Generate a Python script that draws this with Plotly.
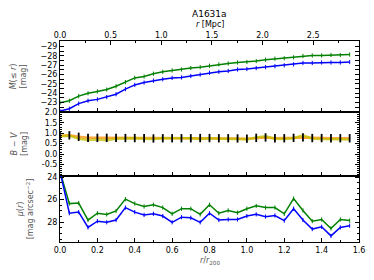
import plotly.graph_objects as go

# r / r200 sampling
r_r200 = [round(0.05 * i, 2) for i in range(32)]
r200_mpc = 1.845

# Top panel: cumulative magnitude M(<= r)
M_green = [-23.0, -23.2, -23.7, -24.0, -24.2, -24.4, -24.75, -25.2, -25.65, -25.8,
           -26.1, -26.3, -26.45, -26.55, -26.7, -26.8, -26.95, -27.1, -27.2, -27.3,
           -27.35, -27.45, -27.6, -27.7, -27.75, -27.85, -28.0, -28.05, -28.05, -28.1,
           -28.1, -28.15]
M_blue = [-22.1, -22.35, -22.9, -23.2, -23.35, -23.6, -23.9, -24.45, -24.9, -25.15,
          -25.35, -25.5, -25.65, -25.7, -25.85, -26.0, -26.2, -26.3, -26.4, -26.55,
          -26.6, -26.7, -26.8, -26.9, -27.0, -27.1, -27.25, -27.25, -27.3, -27.3,
          -27.3, -27.35]

# Middle panel: B - V colour
BV_orange = [0.88, 0.90, 0.83, 0.78, 0.78, 0.78, 0.78, 0.77, 0.77, 0.76, 0.75, 0.76,
             0.76, 0.76, 0.76, 0.77, 0.77, 0.76, 0.76, 0.75, 0.74, 0.78, 0.80, 0.76,
             0.76, 0.78, 0.80, 0.77, 0.77, 0.76, 0.76, 0.76]
BV_yellow = [0.87, 0.88, 0.74, 0.68, 0.70, 0.66, 0.74, 0.76, 0.76, 0.74, 0.73, 0.76,
             0.76, 0.74, 0.76, 0.72, 0.76, 0.74, 0.74, 0.72, 0.70, 0.80, 0.86, 0.74,
             0.73, 0.76, 0.90, 0.74, 0.72, 0.72, 0.70, 0.70]
BV_err = [0.2] * 32

# Bottom panel: surface brightness mu(r)
mu_green = [23.5, 26.35, 26.3, 27.8, 27.2, 27.3, 27.0, 25.95, 26.35, 26.6, 26.45, 26.7,
            27.25, 26.8, 26.8, 27.3, 26.45, 27.2, 26.95, 27.15, 26.8, 26.55, 26.7, 26.7,
            27.25, 25.9, 26.95, 27.9, 27.75, 28.55, 27.75, 27.85]
mu_blue = [23.5, 27.2, 27.1, 28.45, 27.9, 28.0, 27.8, 26.7, 27.1, 27.35, 27.25, 27.45,
           28.0, 27.55, 27.6, 28.0, 27.2, 27.8, 27.75, 27.75, 27.45, 27.3, 27.5, 27.4,
           27.85, 26.8, 27.8, 28.6, 28.4, 29.2, 28.45, 28.3]

x_ticks = [0.0, 0.2, 0.4, 0.6, 0.8, 1.0, 1.2, 1.4, 1.6]
mpc_ticks = [0.0, 0.5, 1.0, 1.5, 2.0, 2.5]
M_ticks = [-29, -28, -27, -26, -25, -24, -23]
BV_ticks = [-0.5, 0.0, 0.5, 1.0, 1.5, 2.0]
BV_labels = ["-0.5", "0.0", "0.5", "1.0", "1.5", "2.0"]
mu_ticks = [24, 26, 28]

GREEN = "#008000"
BLUE = "#0000ff"
GRAY = "#555555"
FONT = "DejaVu Sans"


def line_trace(y, color, xa, ya):
    return go.Scatter(
        x=r_r200, y=y, xaxis=xa, yaxis=ya, mode="lines+markers",
        line=dict(color=color, width=1.5),
        marker=dict(symbol="line-ns", size=3, line=dict(color=color, width=1)),
        showlegend=False, hoverinfo="skip",
    )


fig = go.Figure()
fig.add_trace(line_trace(M_green, GREEN, "x", "y"))
fig.add_trace(line_trace(M_blue, BLUE, "x", "y"))

fig.add_trace(go.Scatter(
    x=r_r200, y=BV_orange, xaxis="x2", yaxis="y2", mode="lines",
    line=dict(color="#ff8c00", width=2.5), opacity=0.75,
    showlegend=False, hoverinfo="skip"))
fig.add_trace(go.Scatter(
    x=r_r200, y=BV_yellow, xaxis="x2", yaxis="y2", mode="lines",
    line=dict(color="#bfbf00", width=2.5), opacity=0.75,
    showlegend=False, hoverinfo="skip"))
# error bars (fully opaque black) on the colour profile
fig.add_trace(go.Scatter(
    x=r_r200, y=BV_orange, xaxis="x2", yaxis="y2", mode="markers",
    marker=dict(size=1, opacity=0),
    error_y=dict(type="data", array=BV_err, color="black", thickness=1.8, width=0),
    showlegend=False, hoverinfo="skip"))

fig.add_trace(line_trace(mu_green, GREEN, "x3", "y3"))
fig.add_trace(line_trace(mu_blue, BLUE, "x3", "y3"))

# invisible trace to activate the top Mpc axis
fig.add_trace(go.Scatter(x=[0, 1.6 * r200_mpc], y=[-25, -25], xaxis="x4", yaxis="y",
                         mode="lines", line=dict(width=0), showlegend=False,
                         hoverinfo="skip"))

tickfont = dict(family=FONT, size=8, color="black")
common_x = dict(range=[0, 1.6], showline=True, linecolor="black", linewidth=1,
                mirror=True, ticks="inside", ticklen=4, tickcolor="black",
                tickvals=x_ticks, tickformat=".1f", showgrid=False, zeroline=False,
                minor=dict(dtick=0.1, ticks="inside", ticklen=2, tickcolor="black"),
                tickfont=tickfont, automargin=False, ticklabeloverflow="allow")
common_y = dict(showline=True, linecolor="black", linewidth=1, mirror="allticks",
                ticks="inside", ticklen=4, tickcolor="black", showgrid=False,
                zeroline=False, tickfont=tickfont, automargin=False,
                ticklabeloverflow="allow")
ytitle_font = dict(family=FONT, size=8, color=GRAY)

bv_minor = [round(-1.0 + 0.1 * k, 1) for k in range(31)]
bv_minor = [v for v in bv_minor if v not in BV_ticks]

d_top = [0.6468, 1.0]
d_mid = [0.3284, 0.6468]
d_bot = [0.0, 0.3284]

# the page body has an 8 px margin, so the figure is sized/offset to compensate
fig.update_layout(
    width=366, height=272,
    margin=dict(l=52, r=15, t=33, b=38),
    paper_bgcolor="white", plot_bgcolor="white",
    font=dict(family=FONT, size=8, color="black"),
    xaxis=dict(common_x, anchor="y", showticklabels=False, matches="x3"),
    xaxis2=dict(common_x, anchor="y2", showticklabels=False, matches="x3"),
    xaxis3=dict(common_x, anchor="y3"),
    xaxis4=dict(range=[0, 1.6 * r200_mpc], overlaying="x", side="top", anchor="y",
                tickvals=mpc_ticks, tickformat=".1f", automargin=False,
                ticklabeloverflow="allow",
                ticks="inside", ticklen=4, tickcolor="black", showgrid=False,
                zeroline=False, showline=False, tickfont=tickfont,
                minor=dict(dtick=0.25, ticks="inside", ticklen=2, tickcolor="black")),
    yaxis=dict(common_y, domain=d_top, anchor="x", range=[-22.0, -29.6],
               tickvals=M_ticks,
               minor=dict(dtick=0.5, ticks="inside", ticklen=2, tickcolor="black"),
               title=dict(text="<i>M</i>(≤ <i>r</i>)<br>[mag]", standoff=12,
                          font=ytitle_font)),
    yaxis2=dict(common_y, domain=d_mid, anchor="x2", range=[-1.05, 2.02],
                tickmode="array", tickvals=BV_ticks, ticktext=BV_labels,
                minor=dict(tickmode="array", tickvals=bv_minor, ticks="inside",
                           ticklen=2, tickcolor="black"),
                title=dict(text="<i>B</i> − <i>V</i><br>[mag]", standoff=12,
                           font=ytitle_font)),
    yaxis3=dict(common_y, domain=d_bot, anchor="x3", range=[29.74, 23.91],
                tickvals=mu_ticks,
                minor=dict(dtick=0.5, ticks="inside", ticklen=2, tickcolor="black"),
                title=dict(text="<i>μ</i>(<i>r</i>)<br>[mag arcsec<sup>−2</sup>]",
                           standoff=12, font=ytitle_font)),
    annotations=[
        dict(text="A1631a", x=0.5, y=1.0, xref="paper", yref="paper",
             showarrow=False, font=dict(family=FONT, size=9, color="black")),
        dict(text="<i>r</i> [Mpc]", x=0.5, y=1.0, xref="paper", yref="paper",
             showarrow=False, font=dict(family=FONT, size=8, color="black")),
        dict(text="<i>r</i>/<i>r</i><sub>200</sub>", x=0.5, y=0.0, xref="paper",
             yref="paper", showarrow=False,
             font=dict(family=FONT, size=8, color=GRAY)),
    ],
)

# place the header / footer texts at page pixel rows (plot area spans rows 41-242)
plot_h = 242 - 41
for ann, ypix in zip(fig.layout.annotations, [14, 25, 261]):
    ann.y = (242 - ypix) / plot_h
    ann.yanchor = "middle"

fig.write_html("out.html")
